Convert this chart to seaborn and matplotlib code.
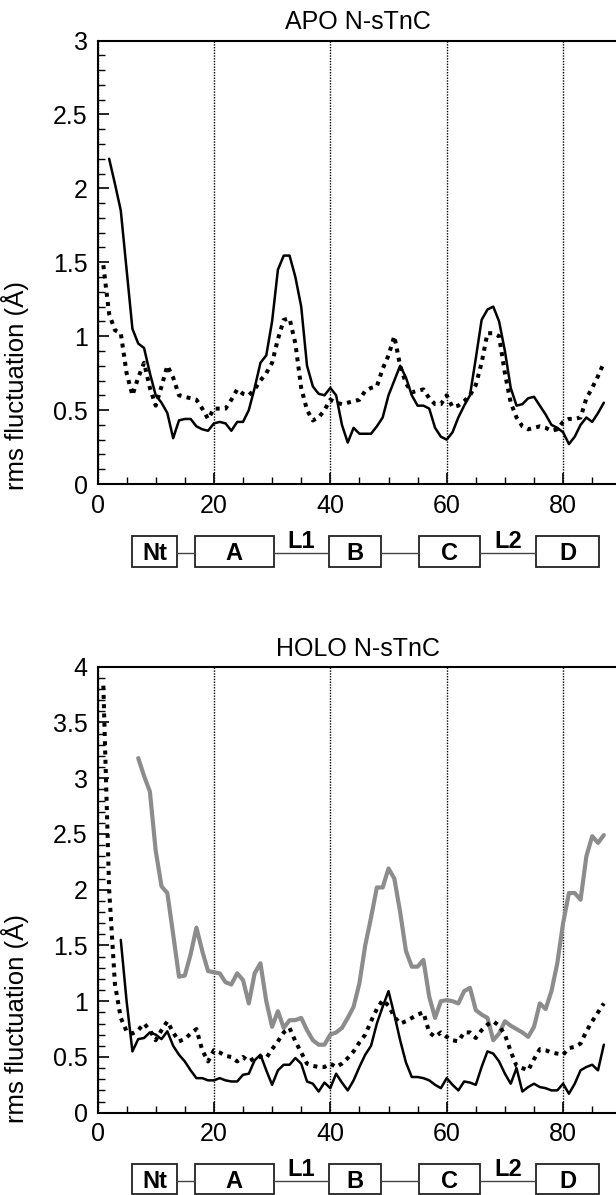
import numpy as np
import pandas as pd
import matplotlib
matplotlib.use("Agg")
import matplotlib.pyplot as plt
from matplotlib.ticker import FixedLocator, MultipleLocator, FuncFormatter
from matplotlib.patches import Rectangle
import seaborn as sns

sns.set_style("ticks")
plt.rcParams['font.family'] = ['Liberation Sans', 'DejaVu Sans']
plt.rcParams['text.color'] = 'black'
plt.rcParams['axes.labelcolor'] = 'black'
plt.rcParams['xtick.color'] = 'black'
plt.rcParams['ytick.color'] = 'black'
plt.rcParams['axes.edgecolor'] = 'black'

# ---------------- data ----------------
apo_solid_res = list(range(2, 88))
apo_solid = [2.20, 2.03, 1.85, 1.45, 1.05, 0.95, 0.92, 0.75, 0.60, 0.55,
             0.48, 0.31, 0.43, 0.44, 0.44, 0.39, 0.37, 0.36, 0.41, 0.42,
             0.41, 0.36, 0.42, 0.42, 0.50, 0.65, 0.82, 0.87, 1.10, 1.45,
             1.545, 1.545, 1.40, 1.20, 0.80, 0.66, 0.61, 0.60, 0.65, 0.60,
             0.40, 0.28, 0.38, 0.34, 0.34, 0.34, 0.39, 0.45, 0.60, 0.70,
             0.80, 0.72, 0.60, 0.53, 0.53, 0.51, 0.38, 0.32, 0.30, 0.35,
             0.45, 0.53, 0.60, 0.85, 1.11, 1.18, 1.20, 1.10, 0.90, 0.65,
             0.53, 0.54, 0.58, 0.59, 0.53, 0.47, 0.40, 0.38, 0.35, 0.27,
             0.32, 0.40, 0.45, 0.42, 0.48, 0.55]

apo_dot_res = list(range(1, 88))
apo_dot = [1.48, 1.15, 1.04, 1.02, 0.75, 0.60, 0.72, 0.82, 0.65, 0.53,
           0.66, 0.80, 0.72, 0.60, 0.59, 0.58, 0.57, 0.51, 0.44, 0.51,
           0.51, 0.51, 0.57, 0.64, 0.61, 0.60, 0.64, 0.70, 0.75, 0.82,
           0.98, 1.11, 1.12, 0.95, 0.65, 0.50, 0.43, 0.45, 0.50, 0.57,
           0.55, 0.54, 0.55, 0.56, 0.57, 0.63, 0.65, 0.66, 0.78, 0.87,
           1.00, 0.80, 0.68, 0.62, 0.63, 0.64, 0.58, 0.54, 0.54, 0.60,
           0.52, 0.53, 0.56, 0.60, 0.67, 0.82, 1.02, 1.02, 1.00, 0.75,
           0.55, 0.45, 0.39, 0.37, 0.38, 0.39, 0.38, 0.36, 0.37, 0.42,
           0.44, 0.44, 0.45, 0.58, 0.65, 0.73, 0.82]

holo_gray_res = list(range(7, 88))
holo_gray = [3.18, 3.02, 2.88, 2.35, 2.03, 1.97, 1.60, 1.22, 1.23, 1.42,
             1.66, 1.45, 1.27, 1.26, 1.25, 1.17, 1.15, 1.25, 1.19, 0.98,
             1.25, 1.34, 1.00, 0.77, 0.91, 0.76, 0.83, 0.83, 0.85, 0.74,
             0.65, 0.61, 0.61, 0.70, 0.72, 0.76, 0.85, 0.95, 1.16, 1.50,
             1.75, 2.02, 2.02, 2.19, 2.10, 1.80, 1.45, 1.31, 1.31, 1.37,
             1.04, 0.85, 1.00, 1.01, 1.00, 0.98, 1.09, 1.12, 0.92, 0.88,
             0.85, 0.65, 0.71, 0.82, 0.78, 0.75, 0.72, 0.68, 0.77, 0.98,
             0.93, 1.09, 1.34, 1.70, 1.97, 1.97, 1.91, 2.30, 2.48, 2.42,
             2.49]

holo_solid_res = list(range(4, 88))
holo_solid = [1.55, 1.00, 0.55, 0.66, 0.67, 0.72, 0.70, 0.66, 0.73, 0.60,
              0.52, 0.46, 0.38, 0.31, 0.31, 0.29, 0.29, 0.31, 0.29, 0.28,
              0.28, 0.34, 0.35, 0.47, 0.52, 0.38, 0.25, 0.38, 0.43, 0.43,
              0.49, 0.44, 0.28, 0.26, 0.19, 0.27, 0.22, 0.35, 0.27, 0.20,
              0.29, 0.41, 0.52, 0.60, 0.80, 0.95, 1.09, 0.88, 0.65, 0.45,
              0.32, 0.32, 0.31, 0.29, 0.25, 0.22, 0.31, 0.25, 0.20, 0.28,
              0.27, 0.25, 0.41, 0.55, 0.53, 0.46, 0.35, 0.26, 0.40, 0.19,
              0.23, 0.26, 0.23, 0.22, 0.20, 0.20, 0.26, 0.17, 0.26, 0.38,
              0.41, 0.43, 0.38, 0.61]

holo_dot_res = list(range(1, 88))
holo_dot = [3.83, 2.00, 1.15, 0.85, 0.73, 0.71, 0.74, 0.80, 0.74, 0.65,
            0.74, 0.82, 0.72, 0.64, 0.66, 0.71, 0.75, 0.56, 0.46, 0.56,
            0.54, 0.51, 0.50, 0.46, 0.50, 0.46, 0.49, 0.50, 0.49, 0.57,
            0.64, 0.72, 0.76, 0.64, 0.54, 0.44, 0.42, 0.41, 0.41, 0.44,
            0.41, 0.44, 0.49, 0.55, 0.63, 0.70, 0.82, 0.93, 1.01, 0.96,
            0.86, 0.80, 0.82, 0.85, 0.88, 0.90, 0.72, 0.68, 0.72, 0.68,
            0.65, 0.64, 0.72, 0.72, 0.67, 0.74, 0.79, 0.82, 0.78, 0.70,
            0.55, 0.42, 0.40, 0.38, 0.48, 0.57, 0.56, 0.54, 0.53, 0.52,
            0.58, 0.59, 0.62, 0.73, 0.82, 0.90, 0.98]

x_major_ticks = [0, 20, 40, 60, 80]
titles = ["APO N-sTnC", "HOLO N-sTnC"]
y_label = "rms fluctuation (Å)"
domain_names = ["Nt", "A", "B", "C", "D"]
domain_start = [6.0, 16.7, 39.7, 55.2, 75.3]
domain_end = [13.6, 30.3, 48.7, 65.8, 86.2]
loop_names = {1: "L1", 3: "L2"}   # loop after domain index

# ---------------- figure ----------------
W, H = 616, 1195
fig = plt.figure(figsize=(W / 100, H / 100), dpi=100)

left_px, right_px = 97.5, 618.0
px_per_unit = 5.82
xmax = (right_px - left_px) / px_per_unit


def fx(px):
    return px / W


def fy(px):
    return 1 - px / H


ax1 = fig.add_axes([fx(left_px), fy(484), (right_px - left_px) / W, (484 - 40.5) / H])
ax2 = fig.add_axes([fx(left_px), fy(1112.7), (right_px - left_px) / W, (1112.7 - 666.7) / H])

dot_style = dict(linestyle=(0, (1, 1.3)), dash_capstyle='butt', linewidth=2.9, color='black')

sns.lineplot(x=apo_dot_res, y=apo_dot, ax=ax1, estimator=None, **dot_style)
sns.lineplot(x=apo_solid_res, y=apo_solid, ax=ax1, estimator=None, color='black', linewidth=1.8)

sns.lineplot(x=holo_gray_res, y=holo_gray, ax=ax2, estimator=None, color='#8c8c8c', linewidth=3.0)
sns.lineplot(x=holo_dot_res, y=holo_dot, ax=ax2, estimator=None, **dot_style)
sns.lineplot(x=holo_solid_res, y=holo_solid, ax=ax2, estimator=None, color='black', linewidth=1.8)

fmt = FuncFormatter(lambda v, p: "%g" % v)
for ax, ymax, title, lab_y in [(ax1, 3, titles[0], 0.221), (ax2, 4, titles[1], 0.212)]:
    ax.set_xlim(0, xmax)
    ax.set_ylim(0, ymax)
    ax.xaxis.set_major_locator(FixedLocator(x_major_ticks))
    ax.xaxis.set_minor_locator(MultipleLocator(5))
    ax.yaxis.set_major_locator(MultipleLocator(0.5))
    ax.yaxis.set_minor_locator(MultipleLocator(0.1))
    ax.yaxis.set_major_formatter(fmt)
    ax.tick_params(axis='both', which='major', direction='in', length=8, width=1.2,
                   labelsize=18, pad=7, top=False, right=False, colors='black')
    ax.tick_params(axis='both', which='minor', direction='in', length=5, width=1.0,
                   top=False, right=False, colors='black')
    ax.xaxis.grid(True, which='major', linestyle=(0, (1, 1)), color='black', linewidth=1.0)
    for s in ax.spines.values():
        s.set_linewidth(1.5)
        s.set_color('black')
    ax.set_xlabel("")
    ax.set_ylabel(y_label, fontsize=18.5, color='black')
    ax.yaxis.set_label_coords((29.5 - left_px) / (right_px - left_px), lab_y)
    ax.set_title(title, fontsize=18, pad=8, color='black')

# ---------------- domain diagrams ----------------
for top_px, bot_px in [(536, 567), (1164, 1194)]:
    d = fig.add_axes([fx(left_px), fy(bot_px), (right_px - left_px) / W, (bot_px - top_px) / H])
    d.set_xlim(0, xmax)
    d.set_ylim(0, 1)
    d.axis('off')
    for i, (name, s, e) in enumerate(zip(domain_names, domain_start, domain_end)):
        d.add_patch(Rectangle((s, 0), e - s, 1, fill=False, lw=1.3, ec='#222222', clip_on=False))
        d.text((s + e) / 2, 0.42, name, ha='center', va='center', fontsize=17,
               fontweight='bold', color='black')
        if i + 1 < len(domain_names):
            d.plot([e, domain_start[i + 1]], [0.45, 0.45], color='#444444', lw=1.0,
                   clip_on=False)
            if i in loop_names:
                d.text((e + domain_start[i + 1]) / 2, 0.6, loop_names[i], ha='center',
                       va='baseline', fontsize=17, fontweight='bold', color='black')

fig.savefig("out.png", dpi=100)
